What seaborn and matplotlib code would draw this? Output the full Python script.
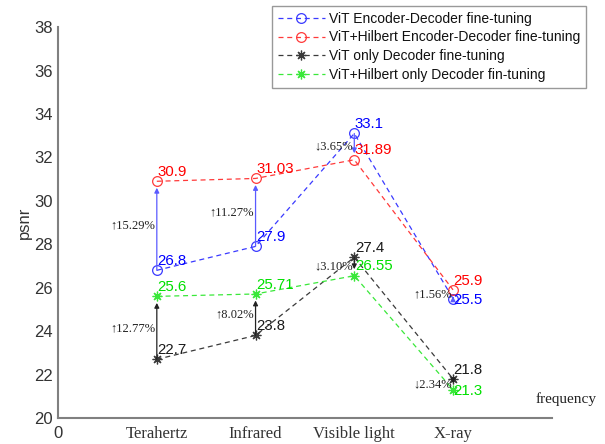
import numpy as np
import pandas as pd
import matplotlib
matplotlib.use("Agg")
import matplotlib.pyplot as plt
import seaborn as sns

# Data
categories = ["Terahertz", "Infrared", "Visible light", "X-ray"]
vit_enc_dec = [26.8, 27.9, 33.1, 25.5]
hil_enc_dec = [30.9, 31.03, 31.89, 25.9]
vit_dec = [22.7, 23.8, 27.4, 21.8]
hil_dec = [25.6, 25.71, 26.55, 21.3]
series_names = [
    "ViT Encoder-Decoder fine-tuning",
    "ViT+Hilbert Encoder-Decoder fine-tuning",
    "ViT only Decoder fine-tuning",
    "ViT+Hilbert only Decoder fin-tuning",
]
# relative change annotations (encoder-decoder pair, decoder-only pair)
enc_dec_change = ["↑15.29%", "↑11.27%", "↓3.65%", "↑1.56%"]
dec_change = ["↑12.77%", "↑8.02%", "↓3.10%", "↓2.34%"]

sns.set_style("white")
plt.rcParams["font.family"] = ["Liberation Sans", "DejaVu Sans"]
serif = ["Liberation Serif", "DejaVu Serif"]

x = np.arange(1, len(categories) + 1)
df = pd.DataFrame({"pos": x})

fig = plt.figure(figsize=(6.05, 4.44), dpi=100)
ax = fig.add_axes([0.096, 0.0586, 0.816, 0.8804])

colors = ["#0000ff", "#ff0000", "#1a1a1a", "#00e000"]
line_colors = ["#3a3aff", "#ff3a3a", "#3a3a3a", "#3ae83a"]
markers = ["o", "o", (8, 2, 0), (8, 2, 0)]
all_vals = [vit_enc_dec, hil_enc_dec, vit_dec, hil_dec]

for vals, name, c, lc, m in zip(all_vals, series_names, colors, line_colors, markers):
    d = df.assign(v=vals)
    sns.lineplot(data=d, x="pos", y="v", ax=ax, color=lc, label=name,
                 marker=m, markersize=7, markerfacecolor="none",
                 markeredgecolor=lc, markeredgewidth=0.9,
                 linestyle=(0, (4, 3)), linewidth=0.9)

# value labels
for vals, c in zip(all_vals, colors):
    for xi, v in zip(x, vals):
        off = 0.43
        if (vals is vit_enc_dec and xi == 4) or (vals is hil_dec and xi == 4):
            off = -0.08
        ax.text(xi + 0.005, v + off, f"{v:g}", color=c, fontsize=10.8,
                ha="left", va="center")

# change arrows and percentages
def change_arrow(xi, y0, y1, label, color):
    gap = 0.3 if y1 > y0 else -0.3
    ax.annotate("", xy=(xi, y1 - gap), xytext=(xi, y0),
                arrowprops=dict(arrowstyle="-|>", color=color, lw=0.9,
                                mutation_scale=7, shrinkA=0, shrinkB=0))
    ax.text(xi - 0.015, (y0 + y1) / 2, label, family=serif, fontsize=9,
            color="#222222", ha="right", va="center")

for i, xi in enumerate(x):
    change_arrow(xi, vit_enc_dec[i], hil_enc_dec[i], enc_dec_change[i], "#5a5aff")
    change_arrow(xi, vit_dec[i], hil_dec[i], dec_change[i], "#222222")

ax.set_xlim(0, 5)
ax.set_ylim(20, 38)
ax.set_xticks(range(0, 6))
ax.set_xticklabels(["0"] + categories + [""])
for lbl in ax.get_xticklabels()[1:]:
    lbl.set_fontfamily(serif)
ax.set_yticks(range(20, 39, 2))
ax.tick_params(direction="in", length=4, width=1, color="#808080",
               labelsize=12, labelcolor="#333333")
ax.tick_params(axis="x", pad=6)
ax.set_xlabel("")
ax.set_ylabel("psnr", fontsize=12, color="#333333", labelpad=2)
ax.text(5.14, 20.85, "frequency", family=serif, fontsize=11,
        color="#222222", ha="center", va="center", clip_on=False)

sns.despine(ax=ax)
for s in ["left", "bottom"]:
    ax.spines[s].set_color("#808080")
    ax.spines[s].set_linewidth(1.5)

leg = ax.legend(loc="upper right", bbox_to_anchor=(1.069, 1.054),
                borderaxespad=0, fontsize=10, frameon=True, fancybox=False,
                handlelength=3.4, handletextpad=0.3, labelspacing=0.35,
                borderpad=0.4)
leg.get_frame().set_edgecolor("#808080")
leg.get_frame().set_linewidth(1.0)
for t in leg.get_texts():
    t.set_color("#111111")

fig.savefig("out.png", dpi=100)
